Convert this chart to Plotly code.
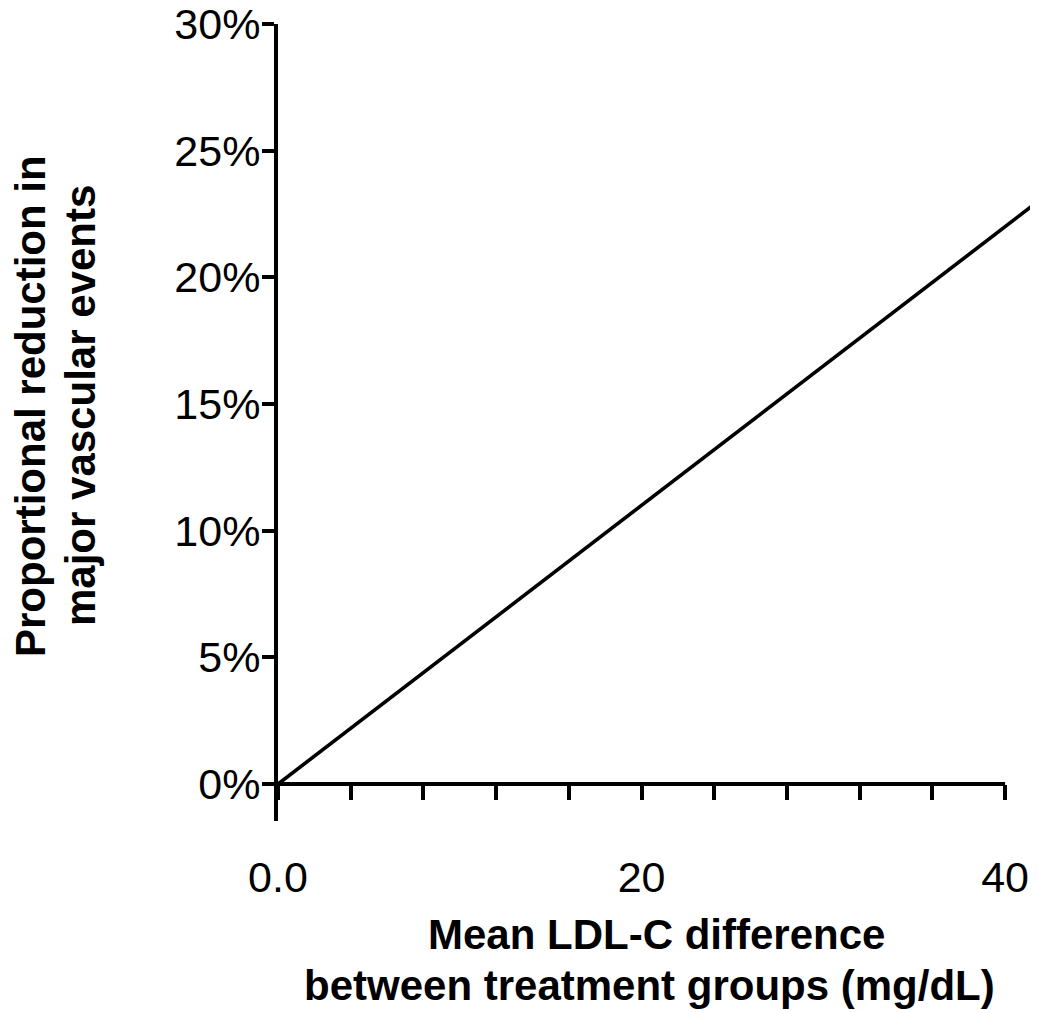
import plotly.graph_objects as go

# Data
ldl_diff = [0, 42]            # mg/dL
reduction = [0, 23.1]         # % reduction

x_tick_vals = [0, 4, 8, 12, 16, 20, 24, 28, 32, 36, 40]
x_tick_text = ["0.0", "", "", "", "", "20", "", "", "", "", "40"]
y_tick_vals = [0, 5, 10, 15, 20, 25, 30]
y_tick_text = ["0%", "5%", "10%", "15%", "20%", "25%", "30%"]

x_title_lines = ["Mean LDL-C difference", "between treatment groups (mg/dL)"]
y_title_lines = ["Proportional reduction in", "major vascular events"]

x_axis_end = 40
x_range = [0, 41.81]
y_range = [-1.46, 30]

FONT = "Arial, 'Liberation Sans', sans-serif"

fig = go.Figure()
fig.add_trace(go.Scatter(
    x=ldl_diff, y=reduction, mode="lines",
    line=dict(color="black", width=3.6),
    showlegend=False, hoverinfo="skip",
))

# x axis line from 0 to 40 at y = 0
fig.add_shape(type="line", xref="x", yref="y",
              x0=x_tick_vals[0], x1=x_axis_end, y0=0, y1=0,
              line=dict(color="black", width=4), layer="above")

pos0 = (0 - y_range[0]) / (y_range[1] - y_range[0])

# page body has an 8px margin, so the figure is made 8px smaller
fig.update_layout(
    width=1030, height=1005,
    margin=dict(l=270, r=0, t=16, b=192, autoexpand=False),
    paper_bgcolor="white", plot_bgcolor="white",
    font=dict(family=FONT, color="black", size=43),
    xaxis=dict(
        range=x_range, anchor="free", position=pos0, automargin=False,
        showline=False, showgrid=False, zeroline=False,
        tickmode="array", tickvals=x_tick_vals, ticktext=x_tick_text,
        ticks="outside", ticklen=15, tickwidth=4, tickcolor="black",
        tickfont=dict(size=43, family=FONT, color="black"),
        ticklabelstandoff=40, ticklabeloverflow="allow",
    ),
    yaxis=dict(
        range=y_range, showline=True, linewidth=4, linecolor="black",
        automargin=False,
        showgrid=False, zeroline=False,
        tickmode="array", tickvals=y_tick_vals, ticktext=y_tick_text,
        ticks="outside", ticklen=12, tickwidth=4, tickcolor="black",
        tickfont=dict(size=43, family=FONT, color="black"),
        ticklabelstandoff=-7, ticklabeloverflow="allow",
    ),
)

title_font = dict(family=FONT, size=42, color="black", weight="bold")

# x title lines
fig.add_annotation(text="<b>" + x_title_lines[0] + "</b>", xref="paper", yref="paper",
                   x=0, y=0, xanchor="center", yanchor="middle",
                   xshift=378, yshift=-113, showarrow=False, font=title_font)
fig.add_annotation(text="<b>" + x_title_lines[1] + "</b>", xref="paper", yref="paper",
                   x=0, y=0, xanchor="center", yanchor="middle",
                   xshift=371, yshift=-164, showarrow=False, font=title_font)

# y title lines
fig.add_annotation(text="<b>" + y_title_lines[0] + "</b>", xref="paper", yref="paper",
                   x=0, y=1, xanchor="center", yanchor="middle", textangle=-90,
                   xshift=29 - 277, yshift=-(406 - 24), showarrow=False, font=title_font)
fig.add_annotation(text="<b>" + y_title_lines[1] + "</b>", xref="paper", yref="paper",
                   x=0, y=1, xanchor="center", yanchor="middle", textangle=-90,
                   xshift=79 - 277, yshift=-(406 - 24), showarrow=False, font=title_font)

fig.write_html("out.html")
